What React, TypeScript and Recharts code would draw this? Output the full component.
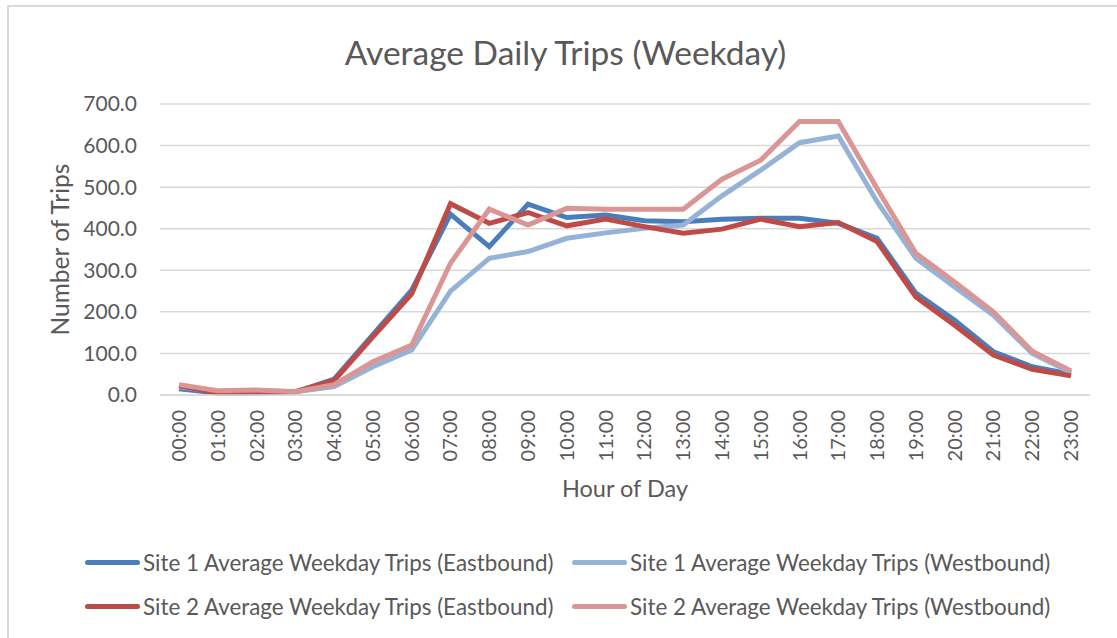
import React from 'react';
import { LineChart, Line, XAxis, YAxis, CartesianGrid, Legend } from 'recharts';

const hours = [
  '00:00', '01:00', '02:00', '03:00', '04:00', '05:00', '06:00', '07:00',
  '08:00', '09:00', '10:00', '11:00', '12:00', '13:00', '14:00', '15:00',
  '16:00', '17:00', '18:00', '19:00', '20:00', '21:00', '22:00', '23:00',
];

const site1East = [15, 5, 5, 7, 38, 145, 252, 435, 357, 459, 427, 433, 419, 417, 423, 425, 425, 413, 377, 245, 180, 104, 68, 50];
const site1West = [20, 8, 10, 8, 20, 68, 108, 250, 329, 345, 377, 390, 401, 409, 479, 541, 607, 623, 465, 329, 260, 192, 100, 54];
const site2East = [22, 5, 8, 8, 35, 140, 243, 460, 413, 439, 407, 423, 405, 389, 399, 423, 405, 415, 369, 236, 168, 96, 62, 46];
const site2West = [25, 10, 12, 8, 25, 80, 120, 317, 447, 409, 449, 447, 447, 447, 519, 565, 658, 658, 497, 341, 272, 200, 105, 58];

const yTicks = [0, 100, 200, 300, 400, 500, 600, 700];

const series = [
  { key: 's1e', name: 'Site 1 Average Weekday Trips (Eastbound)', color: '#4a7ebb' },
  { key: 's1w', name: 'Site 1 Average Weekday Trips (Westbound)', color: '#95b3d7' },
  { key: 's2e', name: 'Site 2 Average Weekday Trips (Eastbound)', color: '#be4b48' },
  { key: 's2w', name: 'Site 2 Average Weekday Trips (Westbound)', color: '#d99694' },
];

const data = hours.map((h, i) => ({
  hour: h,
  s1e: site1East[i],
  s1w: site1West[i],
  s2e: site2East[i],
  s2w: site2West[i],
}));

const FONT = 'Lato, "Open Sans", sans-serif';
const TEXT = '#595959';

const HourTick = ({ x, y, payload }: any) => (
  <g transform={`translate(${x},${y})`}>
    <text transform="rotate(-90)" x={-7} y={0} dy="0.35em" textAnchor="end" fill={TEXT} fontSize={20} fontFamily={FONT}>
      {payload.value}
    </text>
  </g>
);

const legendPos = [
  { left: 85, top: 0 },
  { left: 572, top: 0 },
  { left: 85, top: 44 },
  { left: 572, top: 44 },
];

const renderLegend = () => (
  <div style={{ position: 'relative', width: 1117, height: 88 }}>
    {series.map((s, i) => (
      <div
        key={s.key}
        style={{
          position: 'absolute',
          left: legendPos[i].left,
          top: legendPos[i].top,
          height: 44,
          display: 'flex',
          alignItems: 'center',
          fontFamily: FONT,
          fontSize: 22.4,
          color: TEXT,
          whiteSpace: 'nowrap',
        }}
      >
        <span style={{ display: 'inline-block', width: 55, height: 5, borderRadius: 3, background: s.color, marginRight: 3 }} />
        {s.name}
      </div>
    ))}
  </div>
);

export default function App() {
  return (
    <div style={{ position: 'absolute', left: 0, top: 0, width: 1117, height: 638, background: '#fff', overflow: 'hidden' }}>
      <div
        style={{
          position: 'absolute',
          left: 7,
          top: 5,
          width: 1110,
          height: 633,
          borderTop: '2px solid #d9d9d9',
          borderLeft: '2px solid #d9d9d9',
          boxSizing: 'border-box',
        }}
      />
      <div
        style={{
          position: 'absolute',
          left: 7,
          top: 32,
          width: 1117,
          lineHeight: '40px',
          textAlign: 'center',
          fontFamily: FONT,
          fontSize: 33.5,
          color: TEXT,
        }}
      >
        Average Daily Trips (Weekday)
      </div>
      <LineChart width={1117} height={638} data={data} margin={{ top: 104, right: 27, bottom: 143, left: 60 }}>
        <CartesianGrid vertical={false} stroke="#d9d9d9" strokeWidth={1.5} />
        <XAxis
          dataKey="hour"
          height={100}
          padding={{ left: 19, right: 19 }}
          tickLine={false}
          axisLine={{ stroke: '#d9d9d9', strokeWidth: 1.5 }}
          interval={0}
          tick={<HourTick />}
          label={{ value: 'Hour of Day', position: 'insideBottom', offset: -2, fill: TEXT, fontSize: 23.5, fontFamily: FONT }}
        />
        <YAxis
          width={100}
          domain={[0, 700]}
          ticks={yTicks}
          tickFormatter={(v: number) => v.toFixed(1)}
          tickLine={false}
          axisLine={false}
          tickMargin={17}
          tick={{ fill: TEXT, fontSize: 21, fontFamily: FONT }}
          label={{ value: 'Number of Trips', angle: -90, position: 'center', dx: -50, fill: TEXT, fontSize: 24.5, fontFamily: FONT }}
        />
        <Legend layout="horizontal" verticalAlign="middle" align="center" wrapperStyle={{ top: 540, left: 0, width: 1117 }} content={renderLegend} />
        {series.map((s) => (
          <Line
            key={s.key}
            type="linear"
            dataKey={s.key}
            name={s.name}
            stroke={s.color}
            strokeWidth={5}
            dot={false}
            activeDot={false}
            isAnimationActive={false}
          />
        ))}
      </LineChart>
    </div>
  );
}
